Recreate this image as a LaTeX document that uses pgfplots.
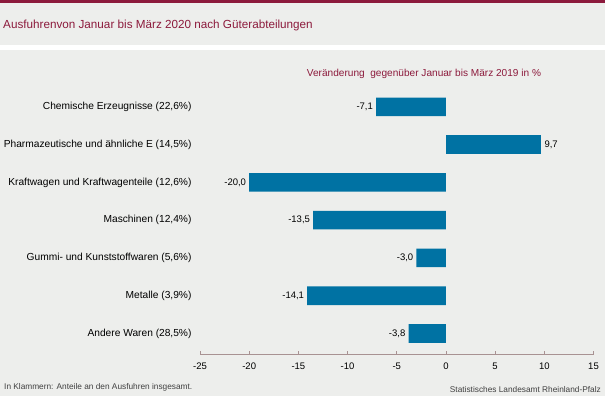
\documentclass[border=0pt]{standalone}
\usepackage{pgfplots}
\pgfplotsset{compat=1.18}
\usepackage{fontspec}
\setmainfont{Liberation Sans}
\definecolor{bg}{HTML}{EDEEEC}
\definecolor{barblue}{HTML}{0072A3}
\definecolor{maroon}{HTML}{8C1A3C}
\definecolor{axiscol}{HTML}{A89292}
\definecolor{notegray}{HTML}{404040}
\begin{document}
\begin{tikzpicture}[x=1bp,y=1bp]
\fill[bg] (0,0) rectangle (605,-396);
\fill[white] (0,-45) rectangle (605,-50);
\fill[maroon] (0,0) rectangle (605,-2.5);
\node[anchor=base west, text=maroon, font=\fontsize{11.7bp}{13bp}\selectfont, inner sep=0] at (3,-28) {Ausfuhrenvon Januar bis März 2020 nach Güterabteilungen};
\node[anchor=base, text=maroon, font=\fontsize{10.1bp}{11bp}\selectfont, inner sep=0] at (424,-76) {Veränderung\ \ gegenüber Januar bis März 2019 in \%};
\begin{axis}[
  at={(200bp,-354bp)}, anchor=south west, scale only axis,
  width=393.5bp, height=266bp,
  xmin=-25, xmax=15, ymin=-0.5, ymax=6.546, y dir=reverse,
  xbar, bar width=18.7bp, bar shift=0pt,
  axis x line*=bottom, axis y line*=left,
  x axis line style={draw=axiscol, line width=0.8bp, -},
  y axis line style={draw=none},
  xtick={-25,-20,...,15},
  tick align=inside, major tick length=3bp,
  xtick style={draw=axiscol, line width=0.8bp},
  ytick style={draw=none},
  ytick={0,...,6},
  yticklabels={{Chemische Erzeugnisse (22,6\%)}, {Pharmazeutische und ähnliche E (14,5\%)}, {Kraftwagen und Kraftwagenteile (12,6\%)}, {Maschinen (12,4\%)}, {Gummi- und Kunststoffwaren (5,6\%)}, {Metalle (3,9\%)}, {Andere Waren (28,5\%)}},
  yticklabel style={font=\fontsize{10.2bp}{11bp}\selectfont, anchor=east, xshift=-5bp},
  xticklabel style={font=\fontsize{9.5bp}{11bp}\selectfont, yshift=-5bp},
  /pgf/number format/assume math mode=true,
  point meta=x,
  nodes near coords={\pgfmathprintnumber[fixed,fixed zerofill,precision=1,use comma,assume math mode=true]{\pgfplotspointmeta}},
  every node near coord/.append style={font=\fontsize{9.5bp}{11bp}\selectfont, text=black},
  clip=false,
]
\addplot[fill=barblue, draw=none, every node near coord/.append style={anchor=east, inner sep=3bp}]
  coordinates {(-7.1,0) (-20.0,2) (-13.5,3) (-3.0,4) (-14.1,5) (-3.8,6)};
\addplot[fill=barblue, draw=none, every node near coord/.append style={anchor=west, inner sep=3bp}]
  coordinates {(9.7,1)};
\end{axis}
\node[anchor=base west, text=notegray, font=\fontsize{8.3bp}{9bp}\selectfont, inner sep=0] at (4,-389) {In Klammern: Anteile an den Ausfuhren insgesamt.};
\node[anchor=base east, text=notegray, font=\fontsize{8.3bp}{9bp}\selectfont, inner sep=0] at (601,-392) {Statistisches Landesamt Rheinland-Pfalz};
\pgfresetboundingbox
\useasboundingbox (0,0) rectangle (605,-396);
\end{tikzpicture}
\end{document}
